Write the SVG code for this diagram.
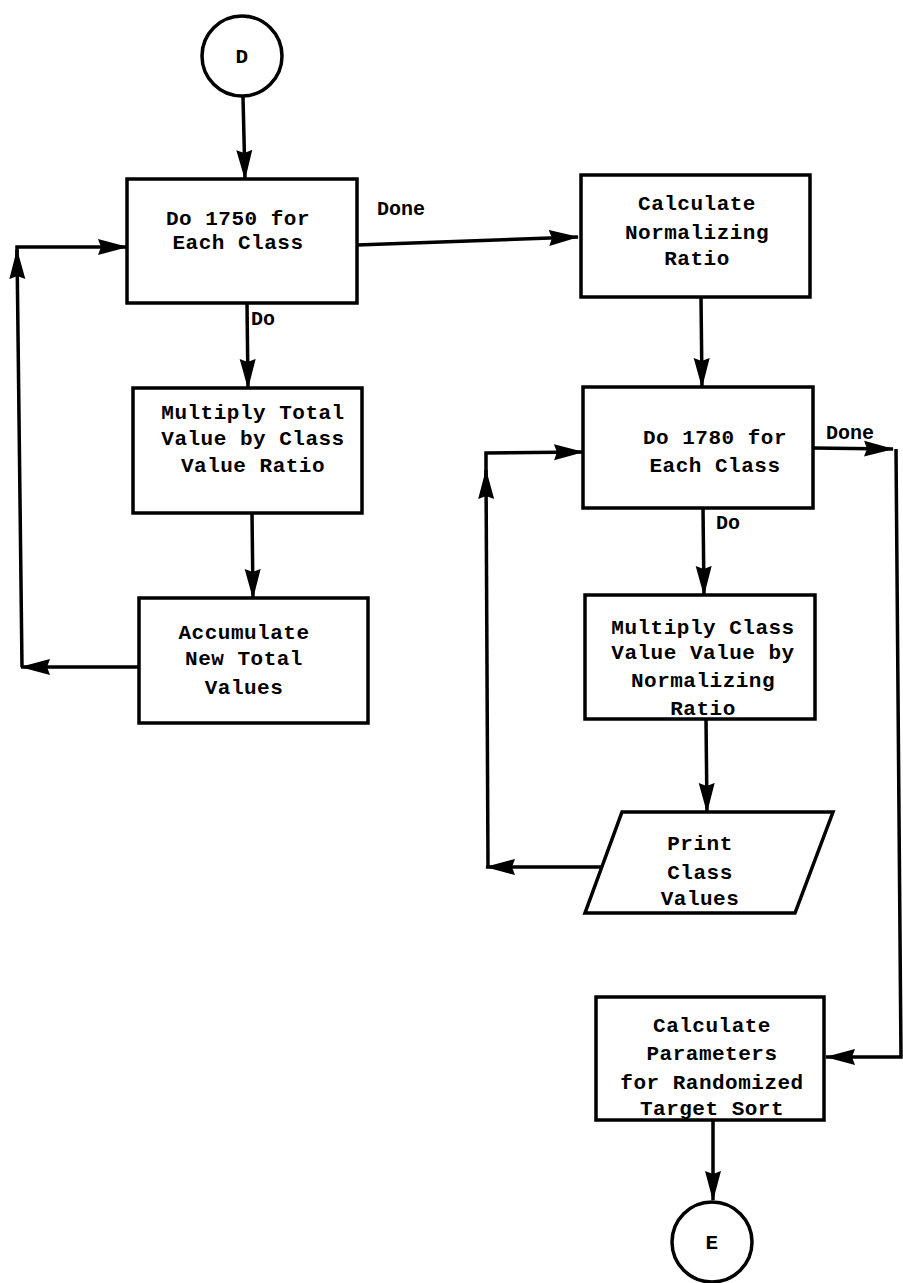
<svg xmlns="http://www.w3.org/2000/svg" width="903" height="1283" viewBox="0 0 903 1283">
<defs>
<marker id="arr" viewBox="0 0 30 18" refX="29" refY="9" markerWidth="30" markerHeight="18" markerUnits="userSpaceOnUse" orient="auto">
<path d="M0,1 L30,9 L0,17 L3,9 Z" fill="#000"/>
</marker>
<style>
.n{fill:#fff;stroke:#000;stroke-width:3.5}
.t{font-family:"Liberation Mono","Courier New",monospace;font-weight:bold;font-size:21px;fill:#000;text-anchor:middle;letter-spacing:0.5px}
.l{font-family:"Liberation Mono","Courier New",monospace;font-weight:bold;font-size:20px;fill:#000}
.c{fill:none;stroke:#000;stroke-width:3.5}
</style>
</defs>
<rect width="903" height="1283" fill="#fff"/>
<g id="connectors">
<line class="c" x1="243" y1="97" x2="245" y2="179" marker-end="url(#arr)"/>
<polyline class="c" points="357,245 578,237" marker-end="url(#arr)"/>
<line class="c" x1="247" y1="303" x2="248" y2="388" marker-end="url(#arr)"/>
<line class="c" x1="252" y1="513" x2="253" y2="598" marker-end="url(#arr)"/>
<line class="c" x1="139" y1="667" x2="21" y2="667" marker-end="url(#arr)"/>
<line class="c" x1="22" y1="667" x2="17" y2="250" marker-end="url(#arr)"/>
<polyline class="c" points="17,262 17,247 127,247" marker-end="url(#arr)"/>
<line class="c" x1="701" y1="297" x2="702" y2="387" marker-end="url(#arr)"/>
<line class="c" x1="703" y1="508" x2="704" y2="595" marker-end="url(#arr)"/>
<line class="c" x1="706" y1="719" x2="707" y2="812" marker-end="url(#arr)"/>
<line class="c" x1="603" y1="867" x2="486" y2="867" marker-end="url(#arr)"/>
<line class="c" x1="488" y1="867" x2="486" y2="470" marker-end="url(#arr)"/>
<polyline class="c" points="486,480 486,453 583,452" marker-end="url(#arr)"/>
<polyline class="c" points="813,448 893,449" marker-end="url(#arr)"/>
<polyline class="c" points="896,449 901,1057 826,1057" marker-end="url(#arr)"/>
<line class="c" x1="713" y1="1120" x2="713" y2="1200" marker-end="url(#arr)"/>
<text class="l" x="377" y="215">Done</text>
<text class="l" x="251" y="325">Do</text>
<text class="l" x="826" y="439">Done</text>
<text class="l" x="716" y="529">Do</text>
</g>
<g id="D">
<circle class="n" cx="242" cy="56" r="40"/>
<text class="t" x="242" y="63">D</text>
</g>
<g id="loop1750">
<rect class="n" x="127" y="179" width="230" height="124"/>
<text class="t" x="238" y="225">Do 1750 for</text>
<text class="t" x="238" y="249">Each Class</text>
</g>
<g id="multiplyTotal">
<rect class="n" x="133" y="388" width="229" height="125"/>
<text class="t" x="253" y="419">Multiply Total</text>
<text class="t" x="253" y="445">Value by Class</text>
<text class="t" x="253" y="472">Value Ratio</text>
</g>
<g id="accumulate">
<rect class="n" x="139" y="598" width="229" height="125"/>
<text class="t" x="244" y="639">Accumulate</text>
<text class="t" x="244" y="665">New Total</text>
<text class="t" x="244" y="694">Values</text>
</g>
<g id="calcRatio">
<rect class="n" x="581" y="175" width="229" height="122"/>
<text class="t" x="697" y="210">Calculate</text>
<text class="t" x="697" y="239">Normalizing</text>
<text class="t" x="697" y="265">Ratio</text>
</g>
<g id="loop1780">
<rect class="n" x="583" y="387" width="230" height="121"/>
<text class="t" x="715" y="444">Do 1780 for</text>
<text class="t" x="715" y="472">Each Class</text>
</g>
<g id="multiplyClass">
<rect class="n" x="585" y="595" width="230" height="124"/>
<text class="t" x="703" y="634">Multiply Class</text>
<text class="t" x="703" y="659">Value Value by</text>
<text class="t" x="703" y="687">Normalizing</text>
<text class="t" x="703" y="715">Ratio</text>
</g>
<g id="print">
<polygon class="n" points="622,812 833,812 795,913 585,913"/>
<text class="t" x="700" y="850">Print</text>
<text class="t" x="700" y="879">Class</text>
<text class="t" x="700" y="905">Values</text>
</g>
<g id="calcParams">
<rect class="n" x="596" y="997" width="228" height="123"/>
<text class="t" x="712" y="1032">Calculate</text>
<text class="t" x="712" y="1060">Parameters</text>
<text class="t" x="712" y="1089">for Randomized</text>
<text class="t" x="712" y="1115">Target Sort</text>
</g>
<g id="E">
<circle class="n" cx="712" cy="1242" r="40"/>
<text class="t" x="712" y="1249">E</text>
</g>
</svg>
